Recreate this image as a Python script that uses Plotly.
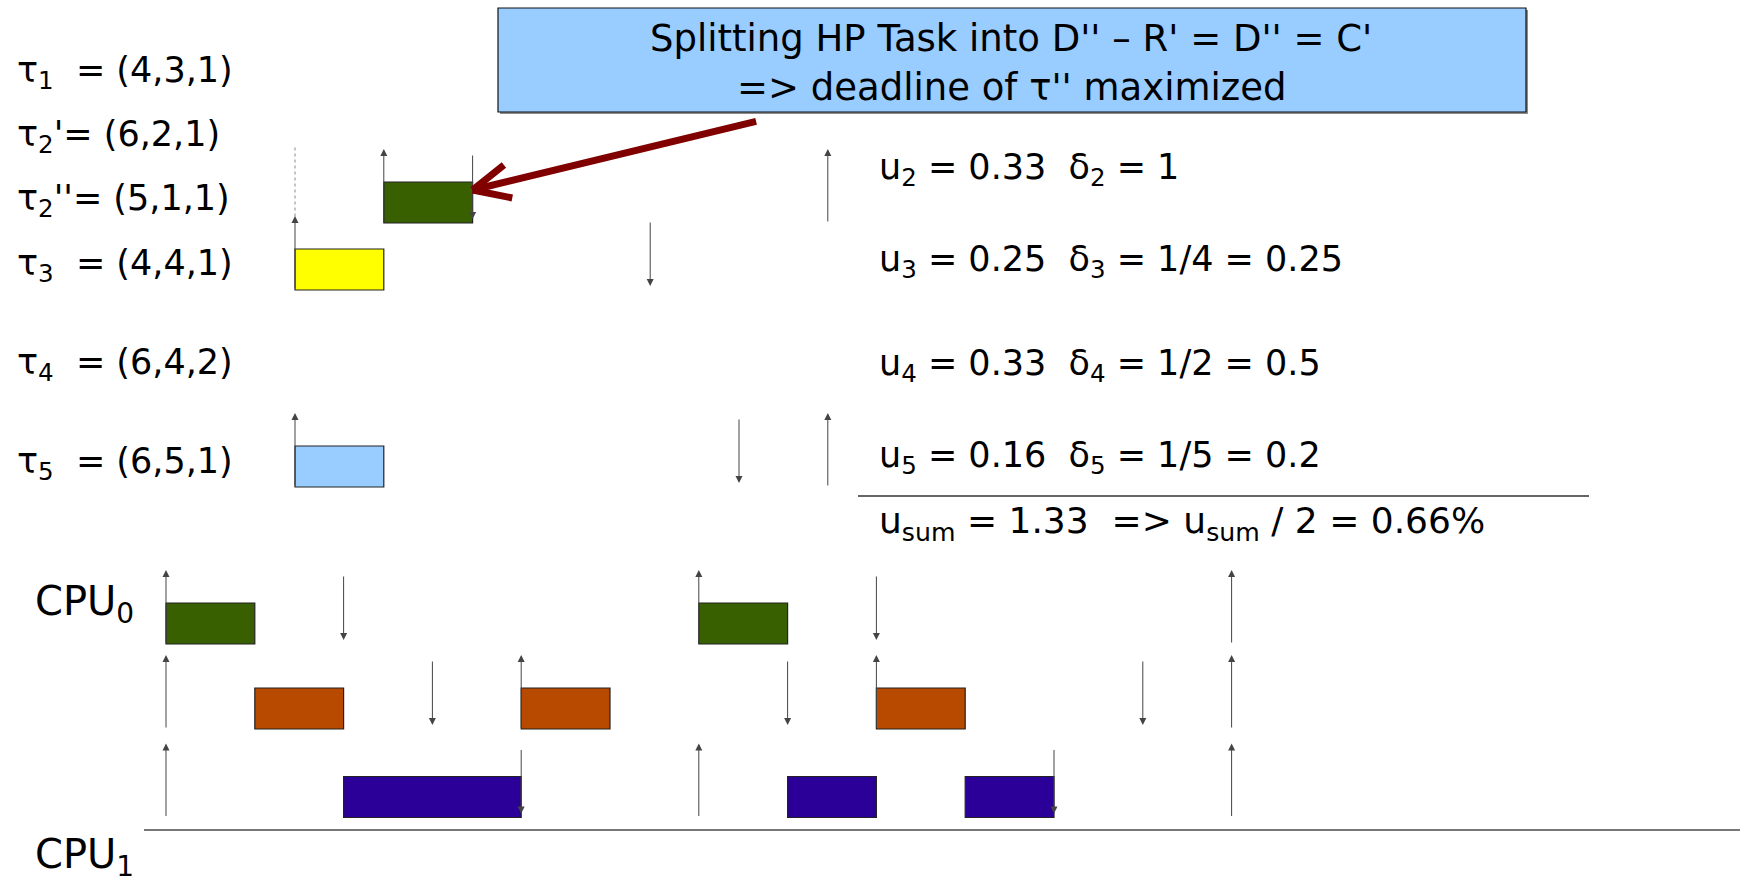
import math
import plotly.graph_objects as go

# ---------------- data ----------------
# task parameter labels (left column)
task_labels = ["τ<sub>1</sub>\u00a0 = (4,3,1)",
               "τ<sub>2</sub>'= (6,2,1)",
               "τ<sub>2</sub>''= (5,1,1)",
               "τ<sub>3</sub>\u00a0 = (4,4,1)",
               "τ<sub>4</sub>\u00a0 = (6,4,2)",
               "τ<sub>5</sub>\u00a0 = (6,5,1)"]
# utilisation / density labels (right column)
util_labels = ["u<sub>2</sub> = 0.33\u00a0 δ<sub>2</sub> = 1",
               "u<sub>3</sub> = 0.25\u00a0 δ<sub>3</sub> = 1/4 = 0.25",
               "u<sub>4</sub> = 0.33\u00a0 δ<sub>4</sub> = 1/2 = 0.5",
               "u<sub>5</sub> = 0.16\u00a0 δ<sub>5</sub> = 1/5 = 0.2"]
sum_label = "u<sub>sum</sub> = 1.33\u00a0 => u<sub>sum</sub> / 2 = 0.66%"
title_lines = ["Splitting HP Task into D'' – R' = D'' = C'",
               "=> deadline of τ'' maximized"]
cpu_labels = ["CPU<sub>0</sub>", "CPU<sub>1</sub>"]

# upper timeline (per-task view)
t2pp_exec_start, t2pp_exec_len = [1], [1]
t2pp_release, t2pp_deadline, t2pp_orig_release = [1, 6], [2], [0]
t3_exec_start, t3_exec_len = [0], [1]
t3_release, t3_deadline = [0], [4]
t5_exec_start, t5_exec_len = [0], [1]
t5_release, t5_deadline = [0, 6], [5]

# lower timeline (CPU schedule)
t2p_exec_start, t2p_exec_len = [0, 6], [1, 1]
t2p_release, t2p_deadline = [0, 6, 12], [2, 8]
t1_exec_start, t1_exec_len = [1, 4, 8], [1, 1, 1]
t1_release, t1_deadline = [0, 4, 8, 12], [3, 7, 11]
t4_exec_start, t4_exec_len = [2, 7, 9], [2, 1, 1]
t4_release, t4_deadline = [0, 6, 12], [4, 10]

# ---------------- layout constants ----------------
W, H = 1740, 880
U = 88.8            # pixels per time unit
X0_LOW, X0_UP = 166, 295
BOX_H = 41
FONT = "DejaVu Sans, Liberation Sans, Arial, sans-serif"

GREEN, ORANGE, INDIGO = "#385F00", "#B84A00", "#2A0099"
YELLOW, LBLUE = "#FFFF00", "#99CCFF"
ARROW_C = "#444444"
RED = "#800000"

fig = go.Figure()

def add_bars(starts, lens, yc, color, xaxis):
    fig.add_trace(go.Bar(orientation="h", x=lens, base=starts, y=[yc] * len(starts),
                         width=BOX_H, marker=dict(color=color, line=dict(color="#222222", width=1.2)),
                         xaxis=xaxis, yaxis="y", hoverinfo="skip"))

def add_arrows(times, yc, up, xaxis):
    b = yc + BOX_H / 2
    for t in times:
        if up:
            tip, tail = b - 74, b
        else:
            tip, tail = b - 4, b - 69
        fig.add_annotation(x=t, y=tip, ax=t, ay=tail, xref=xaxis, yref="y",
                           axref=xaxis, ayref="y", text="", showarrow=True,
                           arrowhead=2, arrowsize=1.4, arrowwidth=1,
                           arrowcolor=ARROW_C, standoff=0, startstandoff=0)

# upper rows
Y_T2PP, Y_T3, Y_T5 = 202.5, 269.5, 466.5
add_bars(t2pp_exec_start, t2pp_exec_len, Y_T2PP, GREEN, "x2")
add_bars(t3_exec_start, t3_exec_len, Y_T3, YELLOW, "x2")
add_bars(t5_exec_start, t5_exec_len, Y_T5, LBLUE, "x2")
add_arrows(t2pp_release, Y_T2PP, True, "x2")
add_arrows(t2pp_deadline, Y_T2PP, False, "x2")
add_arrows(t3_release, Y_T3, True, "x2")
add_arrows(t3_deadline, Y_T3, False, "x2")
add_arrows(t5_release, Y_T5, True, "x2")
add_arrows(t5_deadline, Y_T5, False, "x2")
for t in t2pp_orig_release:
    fig.add_trace(go.Scatter(x=[t, t], y=[Y_T2PP - 55, Y_T2PP + 14], mode="lines",
                             line=dict(color="#888888", width=1, dash="dot"),
                             xaxis="x2", yaxis="y", hoverinfo="skip"))

# lower rows
Y_A, Y_B, Y_C = 623.5, 708.5, 797
add_bars(t2p_exec_start, t2p_exec_len, Y_A, GREEN, "x")
add_bars(t1_exec_start, t1_exec_len, Y_B, ORANGE, "x")
add_bars(t4_exec_start, t4_exec_len, Y_C, INDIGO, "x")
add_arrows(t2p_release, Y_A, True, "x")
add_arrows(t2p_deadline, Y_A, False, "x")
add_arrows(t1_release, Y_B, True, "x")
add_arrows(t1_deadline, Y_B, False, "x")
add_arrows(t4_release, Y_C, True, "x")
add_arrows(t4_deadline, Y_C, False, "x")

# red pointer arrow (open chevron head) to the tau2'' deadline
SHAFT_DX, SHAFT_DY = 285, -69        # pixel offset of the tail from the tip
theta = math.atan2(SHAFT_DY, SHAFT_DX)
arm_len, arm_ang = 42, math.radians(25)
offsets = [(SHAFT_DX, SHAFT_DY)] + [
    (arm_len * math.cos(theta + s * arm_ang), arm_len * math.sin(theta + s * arm_ang))
    for s in (-1, 1)]
for dx, dy in offsets:
    fig.add_annotation(x=t2pp_deadline[0], y=190, xref="x2", yref="y",
                       ax=dx, ay=dy, axref="pixel", ayref="pixel", text="",
                       showarrow=True, arrowhead=0, arrowwidth=7,
                       arrowcolor=RED, standoff=0, startstandoff=0)

# title box
fig.add_shape(type="rect", xref="paper", yref="y", x0=500 / W, x1=1528 / W, y0=10, y1=114,
              fillcolor="#8c8c8c", line=dict(width=0), layer="below")
fig.add_shape(type="rect", xref="paper", yref="y", x0=498 / W, x1=1526 / W, y0=8, y1=112,
              fillcolor=LBLUE, line=dict(color="#111111", width=1.2), layer="below")
for txt, yy in zip(title_lines, [38, 87]):
    fig.add_annotation(x=1011 / W, y=yy, xref="paper", yref="y", text=txt,
                       showarrow=False, xanchor="center", yanchor="middle",
                       font=dict(family=FONT, size=37, color="black"))

# left labels
label_y = [72, 136, 200, 265, 364, 463]
for txt, yy in zip(task_labels, label_y):
    fig.add_annotation(x=15 / W, y=yy, xref="paper", yref="y", text=txt, showarrow=False,
                       xanchor="left", yanchor="middle",
                       font=dict(family=FONT, size=35, color="black"))

# right labels
util_y = [169, 261, 365, 457]
for txt, yy in zip(util_labels, util_y):
    fig.add_annotation(x=877 / W, y=yy, xref="paper", yref="y", text=txt, showarrow=False,
                       xanchor="left", yanchor="middle",
                       font=dict(family=FONT, size=35, color="black"))
fig.add_annotation(x=877 / W, y=523, xref="paper", yref="y", text=sum_label, showarrow=False,
                   xanchor="left", yanchor="middle",
                   font=dict(family=FONT, size=36, color="black"))

# CPU labels
for txt, yy in zip(cpu_labels, [604, 857]):
    fig.add_annotation(x=33 / W, y=yy, xref="paper", yref="y", text=txt, showarrow=False,
                       xanchor="left", yanchor="middle",
                       font=dict(family=FONT, size=40, color="black"))

# separator lines
fig.add_shape(type="line", xref="paper", yref="y", x0=858 / W, x1=1589 / W, y0=496, y1=496,
              line=dict(color="#333333", width=1.5))
fig.add_shape(type="line", xref="paper", yref="y", x0=144 / W, x1=1.0, y0=830, y1=830,
              line=dict(color="#777777", width=2))

fig.update_layout(
    width=W, height=H, margin=dict(l=0, r=0, t=0, b=0),
    paper_bgcolor="white", plot_bgcolor="white", showlegend=False,
    barmode="overlay",
    xaxis=dict(range=[-X0_LOW / U, (W - X0_LOW) / U], visible=False, fixedrange=True),
    xaxis2=dict(range=[-X0_UP / U, (W - X0_UP) / U], visible=False, overlaying="x",
                anchor="y", fixedrange=True),
    yaxis=dict(range=[H, 0], visible=False, fixedrange=True),
)

fig.write_html("out.html")
